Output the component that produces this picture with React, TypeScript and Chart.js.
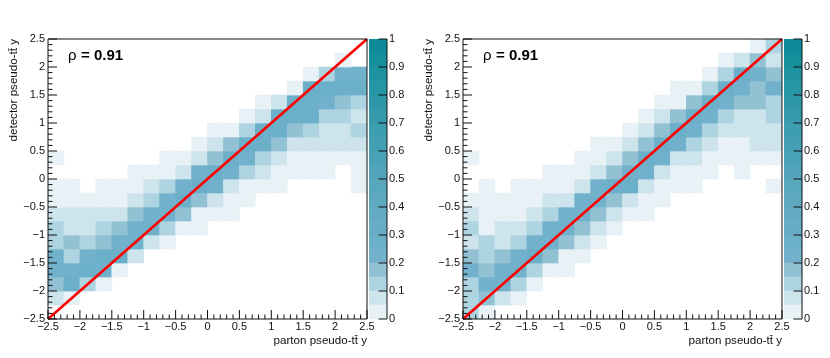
import React, { useEffect, useRef } from "react";
import { Chart, registerables } from "chart.js";

Chart.register(...registerables);

// Bin lower edges, parton (x) and detector (y)
const binEdges = [-2.5, -2.25, -2, -1.75, -1.5, -1.25, -1, -0.75, -0.5, -0.25, 0, 0.25, 0.5, 0.75, 1, 1.25, 1.5, 1.75, 2, 2.25];
const binWidth = 0.25;

// Cell values in percent, row 0 = lowest detector bin; 0 means empty
const leftValues = [
  [],
  [7, 3],
  [17, 25, 12, 3],
  [22, 22, 25, 22, 3],
  [22, 12, 22, 27, 27, 7],
  [12, 17, 12, 17, 22, 22, 7, 3],
  [12, 7, 7, 12, 17, 22, 22, 12, 3, 3],
  [7, 7, 7, 7, 7, 17, 22, 22, 17, 3, 3, 3],
  [3, 3, 3, 3, 3, 7, 12, 22, 25, 17, 7, 3, 3],
  [3, 3, 0, 3, 3, 3, 7, 12, 22, 25, 22, 7, 3, 3, 3, 0, 0, 0, 0, 3],
  [0, 0, 0, 0, 0, 3, 3, 3, 7, 22, 27, 22, 12, 7, 3, 3, 3, 3, 0, 3],
  [3, 0, 0, 0, 0, 0, 0, 3, 3, 7, 17, 27, 22, 12, 7, 3, 3, 3, 3, 3],
  [0, 0, 0, 0, 0, 0, 0, 0, 0, 3, 7, 17, 27, 27, 17, 7, 7, 7, 7, 7],
  [0, 0, 0, 0, 0, 0, 0, 0, 0, 0, 3, 3, 12, 27, 25, 17, 12, 7, 7, 12],
  [0, 0, 0, 0, 0, 0, 0, 0, 0, 0, 0, 0, 3, 7, 27, 27, 25, 12, 12, 7],
  [0, 0, 0, 0, 0, 0, 0, 0, 0, 0, 0, 0, 0, 3, 7, 27, 27, 22, 17, 12],
  [0, 0, 0, 0, 0, 0, 0, 0, 0, 0, 0, 0, 0, 0, 0, 3, 25, 27, 25, 25],
  [0, 0, 0, 0, 0, 0, 0, 0, 0, 0, 0, 0, 0, 0, 0, 0, 3, 12, 22, 22],
  [0, 0, 0, 0, 0, 0, 0, 0, 0, 0, 0, 0, 0, 0, 0, 0, 0, 0, 3, 0],
  [],
];

const rightValues = [
  [12, 3],
  [12, 17, 7, 3],
  [12, 22, 22, 12, 3],
  [22, 17, 22, 22, 12, 3, 3],
  [17, 12, 17, 22, 27, 17, 3, 3],
  [7, 12, 7, 12, 22, 22, 17, 7, 3],
  [12, 3, 7, 7, 12, 22, 22, 17, 7, 3],
  [7, 3, 3, 3, 7, 12, 22, 22, 17, 7, 3, 3],
  [3, 3, 3, 3, 3, 7, 7, 22, 22, 17, 7, 3, 3],
  [0, 3, 0, 3, 3, 3, 3, 7, 22, 25, 25, 7, 3, 3, 3, 0, 0, 0, 0, 3],
  [0, 0, 0, 0, 0, 3, 3, 3, 7, 17, 22, 22, 7, 3, 3, 3, 0, 3, 0, 0],
  [3, 0, 0, 0, 0, 0, 0, 3, 3, 7, 17, 27, 22, 7, 7, 3, 3, 3, 3, 3],
  [0, 0, 0, 0, 0, 0, 0, 0, 3, 3, 7, 17, 27, 22, 12, 7, 3, 3, 7, 7],
  [0, 0, 0, 0, 0, 0, 0, 0, 0, 0, 3, 7, 17, 27, 22, 12, 7, 7, 7, 7],
  [0, 0, 0, 0, 0, 0, 0, 0, 0, 0, 0, 3, 7, 17, 27, 22, 12, 7, 7, 12],
  [0, 0, 0, 0, 0, 0, 0, 0, 0, 0, 0, 0, 3, 3, 17, 27, 22, 17, 17, 12],
  [0, 0, 0, 0, 0, 0, 0, 0, 0, 0, 0, 0, 0, 3, 3, 12, 27, 22, 17, 22],
  [0, 0, 0, 0, 0, 0, 0, 0, 0, 0, 0, 0, 0, 0, 0, 3, 12, 27, 22, 17],
  [0, 0, 0, 0, 0, 0, 0, 0, 0, 0, 0, 0, 0, 0, 0, 0, 3, 7, 17, 7],
  [0, 0, 0, 0, 0, 0, 0, 0, 0, 0, 0, 0, 0, 0, 0, 0, 0, 0, 3, 12],
];

const diagonal = [-2.5, 2.5];
const xTitle = "parton pseudo-t\u0074\u0304 y";
const yTitle = "detector pseudo-t\u0074\u0304 y";
const rhoSymbol = "\u03c1";
const rhoText = "= 0.91";

// Colour scale: 20 bands of width 0.05, lowest first
const bandWidth = 0.05;
const bandColors = [
  "#e8f1f6", "#cde4ec", "#aed3e1", "#92c1d4", "#71b1cc",
  "#6cafc8", "#68adc5", "#63abc3", "#5ea9c0", "#58a7bd",
  "#52a4ba", "#4aa2b6", "#43a0b3", "#3c9eaf", "#359bab",
  "#2e98a8", "#2695a4", "#1e92a1", "#168f9d", "#0e8b99",
];

const FONT = "'Liberation Sans', Arial, sans-serif";
const INK = "#111";

const fmt = (v: number) => {
  const r = Math.round(v * 100) / 100;
  return (r < 0 ? "\u2212" : "") + String(Math.abs(r));
};

const range = (from: number, to: number, step: number) => {
  const out: number[] = [];
  const n = Math.round((to - from) / step);
  for (let i = 0; i <= n; i++) out.push(from + i * step);
  return out;
};

const axesPlugin = {
  id: "rootAxes",
  afterDatasetsDraw(chart: any) {
    const { ctx, chartArea: a, scales } = chart;
    ctx.save();
    ctx.strokeStyle = INK;
    ctx.lineWidth = 1;
    ctx.beginPath();
    const minor = range(-2.5, 2.5, 0.1);
    minor.forEach((v, i) => {
      const len = i % 5 === 0 ? 9 : 4.5;
      const px = scales.x.getPixelForValue(v);
      ctx.moveTo(px, a.bottom);
      ctx.lineTo(px, a.bottom - len);
      const py = scales.y.getPixelForValue(v);
      ctx.moveTo(a.left, py);
      ctx.lineTo(a.left + len, py);
    });
    ctx.rect(a.left, a.top, a.right - a.left, a.bottom - a.top);
    ctx.stroke();
    ctx.fillStyle = "#000";
    ctx.textBaseline = "alphabetic";
    ctx.textAlign = "left";
    ctx.font = `15px ${FONT}`;
    ctx.fillText(rhoSymbol, a.left + 20, 60);
    ctx.font = `bold 15px ${FONT}`;
    ctx.fillText(rhoText, a.left + 33, 60);
    ctx.restore();
  },
};

const colorAxisPlugin = {
  id: "colorAxis",
  afterDatasetsDraw(chart: any) {
    const { ctx, chartArea: a, scales } = chart;
    ctx.save();
    ctx.strokeStyle = INK;
    ctx.lineWidth = 1;
    ctx.beginPath();
    range(0, 1, 0.1).forEach((v) => {
      const py = scales.y.getPixelForValue(v);
      ctx.moveTo(a.right, py);
      ctx.lineTo(a.right - 8.5, py);
    });
    ctx.moveTo(a.right, a.top);
    ctx.lineTo(a.right, a.bottom);
    ctx.stroke();
    ctx.restore();
  },
};

function makeHeat(canvas: HTMLCanvasElement, values: number[][]) {
  const cells: any[] = [];
  const colors: string[] = [];
  values.forEach((row, r) =>
    row.forEach((pct, c) => {
      if (!pct) return;
      cells.push({
        x: binEdges[c] + binWidth / 2,
        y: [binEdges[r], binEdges[r] + binWidth],
      });
      colors.push(bandColors[Math.floor(pct / 100 / bandWidth)]);
    })
  );
  return new Chart(canvas, {
    type: "bar",
    data: {
      datasets: [
        {
          type: "line",
          data: diagonal.map((v) => ({ x: v, y: v })),
          borderColor: "#ff0000",
          borderWidth: 2.6,
          pointRadius: 0,
          clip: false,
          order: 0,
        } as any,
        {
          type: "bar",
          data: cells,
          backgroundColor: colors,
          borderWidth: 0,
          barPercentage: 1,
          categoryPercentage: 1,
          grouped: false,
          order: 1,
        } as any,
      ],
    },
    options: {
      animation: false,
      responsive: false,
      events: [],
      layout: { padding: { top: 39, right: 13, left: 0, bottom: 0 } },
      plugins: { legend: { display: false }, tooltip: { enabled: false }, title: { display: false } },
      scales: {
        x: {
          type: "linear",
          offset: false,
          min: -2.5,
          max: 2.5,
          grid: { display: false, drawTicks: false },
          border: { display: false },
          afterFit: (s: any) => { s.height = 39; },
          ticks: {
            stepSize: 0.5,
            maxRotation: 0,
            autoSkip: false,
            padding: 1,
            color: "#111",
            font: { family: FONT, size: 11 },
            callback: (v: any) => fmt(Number(v)),
          },
          title: {
            display: true,
            text: xTitle,
            align: "end",
            color: "#111",
            padding: { top: 0, bottom: 10 },
            font: { family: FONT, size: 11.6 },
          },
        },
        y: {
          type: "linear",
          min: -2.5,
          max: 2.5,
          grid: { display: false, drawTicks: false },
          border: { display: false },
          afterFit: (s: any) => { s.width = 48; },
          ticks: {
            stepSize: 0.5,
            autoSkip: false,
            padding: 3,
            color: "#111",
            font: { family: FONT, size: 11 },
            callback: (v: any) => fmt(Number(v)),
          },
          title: {
            display: true,
            text: yTitle,
            align: "end",
            color: "#111",
            padding: { top: 7, bottom: 0 },
            font: { family: FONT, size: 11.6 },
          },
        },
      },
    } as any,
    plugins: [axesPlugin],
  });
}

function makeColorBar(canvas: HTMLCanvasElement) {
  return new Chart(canvas, {
    type: "bar",
    data: {
      labels: [""],
      datasets: bandColors.map((c) => ({
        data: [bandWidth],
        backgroundColor: c,
        borderWidth: 0,
        barPercentage: 1,
        categoryPercentage: 1,
      })),
    },
    options: {
      animation: false,
      responsive: false,
      events: [],
      layout: { padding: { top: 39, bottom: 39, left: 0, right: 0 } },
      plugins: { legend: { display: false }, tooltip: { enabled: false } },
      scales: {
        x: { display: false, stacked: true },
        y: {
          position: "right",
          stacked: true,
          min: 0,
          max: 1,
          grid: { display: false, drawTicks: false },
          border: { display: false },
          afterFit: (s: any) => { s.width = 22; },
          ticks: {
            stepSize: 0.1,
            autoSkip: false,
            padding: 2,
            color: "#111",
            font: { family: FONT, size: 11 },
            callback: (v: any) => fmt(Number(v)),
          },
        },
      },
    } as any,
    plugins: [colorAxisPlugin],
  });
}

function Panel({ left, values }: { left: number; values: number[][] }) {
  const heatRef = useRef<HTMLCanvasElement>(null);
  const barRef = useRef<HTMLCanvasElement>(null);
  useEffect(() => {
    const heat = makeHeat(heatRef.current!, values);
    const bar = makeColorBar(barRef.current!);
    return () => {
      heat.destroy();
      bar.destroy();
    };
  }, [values]);
  return (
    <>
      <canvas ref={barRef} width={40} height={358} style={{ position: "absolute", left: left + 369, top: 0, width: 40, height: 358 }} />
      <canvas ref={heatRef} width={380} height={358} style={{ position: "absolute", left, top: 0, width: 380, height: 358 }} />
    </>
  );
}

export default function App() {
  return (
    <div style={{ position: "absolute", left: 0, top: 0, width: 830, height: 358, background: "#fff", overflow: "hidden" }}>
      <Panel left={0} values={leftValues} />
      <Panel left={415} values={rightValues} />
    </div>
  );
}
